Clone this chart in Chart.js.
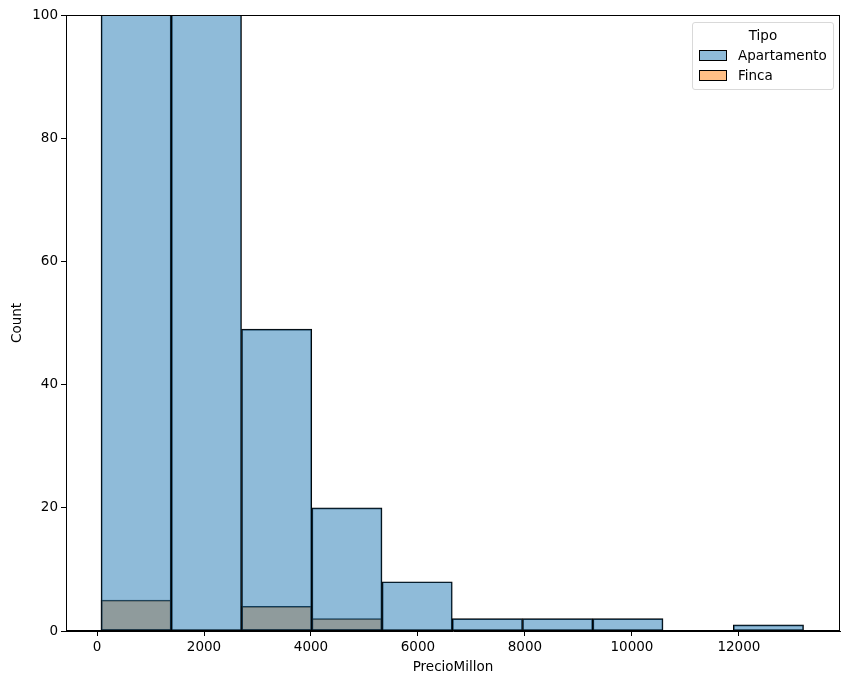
<!DOCTYPE html>
<html>
<head>
<meta charset="utf-8">
<script src="https://cdn.jsdelivr.net/npm/chart.js@4.4.1/dist/chart.umd.min.js"></script>
<style>
    html, body { margin: 0; padding: 0; background: #fff; }
    #wrap { position: relative; width: 850px; height: 684px; }
    #legend {
        position: absolute; left: 692px; top: 22px; width: 140px; height: 66px;
        border: 1px solid #d9d9d9; border-radius: 3px; background: rgba(255,255,255,0.8);
        font-family: "DejaVu Sans", sans-serif; font-size: 13.5px; color: #000;
    }
    #legend .title { text-align: center; margin-top: 2px; height: 20px; line-height: 20px; }
    #legend .item { height: 20px; line-height: 20px; position: relative; padding-left: 45px; }
    #legend .swatch {
        position: absolute; left: 6px; top: 5px; width: 26px; height: 9px;
        border: 1px solid #000;
    }
</style>
</head>
<body>
<div id="wrap">
    <canvas id="chart" width="850" height="684"></canvas>
    <div id="legend">
        <div class="title">Tipo</div>
        <div class="item"><span class="swatch" style="background: rgba(31,119,180,0.5);"></span>Apartamento</div>
        <div class="item"><span class="swatch" style="background: rgba(255,127,14,0.5);"></span>Finca</div>
    </div>
</div>
<script>
// histogram bin edges (PrecioMillon)
const binEdges = [75, 1388, 2702, 4015, 5328, 6642, 7955, 9268, 10582, 11895, 13209];
// counts per bin (first two bins go past the top of the axis)
const apartamentoCounts = [180, 150, 49, 20, 8, 2, 2, 2, null, 1];
const fincaCounts = [5, null, 4, 2, null, null, null, null, null, null];
const xTicks = [0, 2000, 4000, 6000, 8000, 10000, 12000];
const yTicks = [0, 20, 40, 60, 80, 100];

const FONT = { family: 'DejaVu Sans', size: 13.5 };

function toPoints(counts) {
    return counts.map((c, i) => ({ x: (binEdges[i] + binEdges[i + 1]) / 2, y: c }));
}

// top and right spines
const frame = {
    id: 'frame',
    afterDatasetsDraw(chart) {
        const { ctx, chartArea: a } = chart;
        ctx.save();
        ctx.strokeStyle = '#000';
        ctx.lineWidth = 1;
        ctx.strokeRect(a.left + 0.5, a.top + 0.5, a.right - a.left - 1, a.bottom - a.top - 1);
        ctx.restore();
    }
};

const ctx = document.getElementById('chart').getContext('2d');
new Chart(ctx, {
    type: 'bar',
    data: {
        datasets: [
            {
                label: 'Apartamento',
                data: toPoints(apartamentoCounts),
                backgroundColor: 'rgba(31,119,180,0.5)',
                borderColor: '#000',
                borderWidth: 1,
                borderSkipped: false
            },
            {
                label: 'Finca',
                data: toPoints(fincaCounts),
                backgroundColor: 'rgba(255,127,14,0.5)',
                borderColor: '#000',
                borderWidth: 1,
                borderSkipped: false
            }
        ]
    },
    options: {
        responsive: false,
        animation: false,
        layout: { padding: { top: 15, right: 10, left: 0, bottom: 0 } },
        datasets: { bar: { grouped: false, barPercentage: 1, categoryPercentage: 1 } },
        plugins: {
            legend: { display: false },
            tooltip: { enabled: false }
        },
        scales: {
            x: {
                type: 'linear',
                offset: false,
                min: -580,
                max: 13890,
                afterBuildTicks: (axis) => { axis.ticks = xTicks.map(v => ({ value: v })); },
                afterFit: (axis) => { axis.height = 53; },
                grid: { display: true, offset: false, drawOnChartArea: false, tickLength: 5, tickColor: '#000' },
                border: { display: true, color: '#000' },
                ticks: { color: '#000', font: FONT, padding: 3, maxRotation: 0, callback: (v) => String(v) },
                title: { display: true, text: 'PrecioMillon', color: '#000', font: FONT, padding: { top: 0, bottom: 8 } }
            },
            y: {
                min: 0,
                max: 100,
                afterBuildTicks: (axis) => { axis.ticks = yTicks.map(v => ({ value: v })); },
                afterFit: (axis) => { axis.width = 66; },
                grid: { display: true, drawOnChartArea: false, tickLength: 5, tickColor: '#000' },
                border: { display: true, color: '#000' },
                ticks: { color: '#000', font: FONT, padding: 3, callback: (v) => String(v) },
                title: { display: true, text: 'Count', color: '#000', font: FONT, padding: { top: 9, bottom: 0 } }
            }
        }
    },
    plugins: [frame]
});
</script>
</body>
</html>
